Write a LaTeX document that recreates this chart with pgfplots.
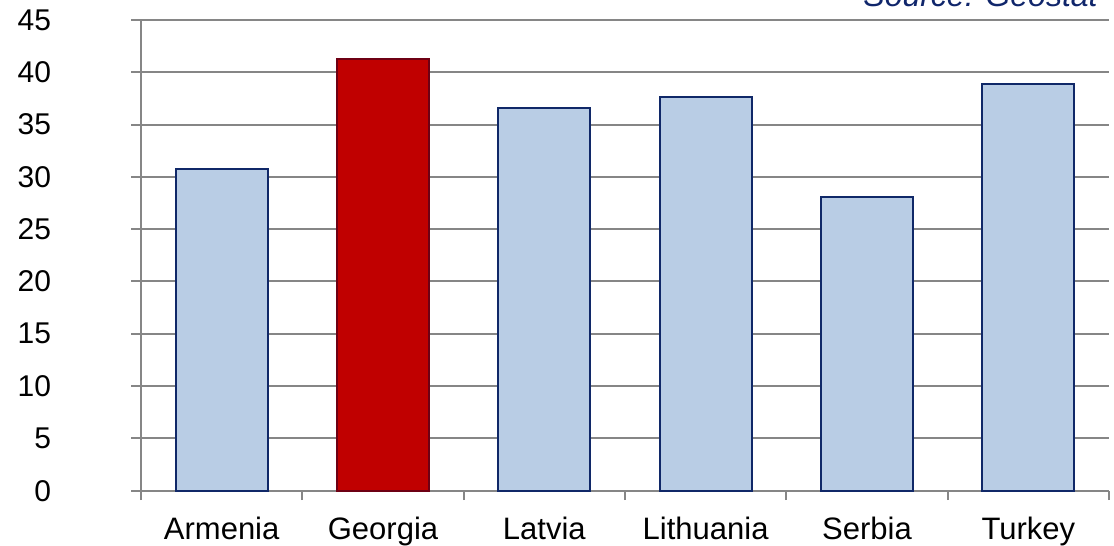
\documentclass[border=0pt]{standalone}
\usepackage{fontspec}
\setmainfont{Liberation Sans}
\usepackage{pgfplots}
\pgfplotsset{compat=1.18}

\definecolor{gridgray}{RGB}{134,134,134}
\definecolor{barblue}{RGB}{185,205,229}
\definecolor{baredge}{RGB}{16,40,104}
\definecolor{barred}{RGB}{192,0,0}
\definecolor{rededge}{RGB}{110,0,20}
\definecolor{srcblue}{RGB}{16,38,107}

\begin{document}
\begin{tikzpicture}
\begin{axis}[
  at={(0,0)}, anchor=south west,
  scale only axis,
  width=484pt, height=235.35pt,
  xmin=-0.5, xmax=5.5,
  ymin=0, ymax=45,
  ytick={0,5,...,45},
  ymajorgrids,
  grid style={draw=gridgray, line width=1pt},
  axis x line*=bottom,
  axis y line*=left,
  axis line style={draw=gridgray, line width=1pt, -},
  tick align=outside,
  major tick length=4.75pt,
  tick style={draw=gridgray, line width=1pt},
  % ticks sit on the category boundaries, names are centred between them
  xtick={-0.5,0.5,...,5.5},
  xticklabels={Armenia,Georgia,Latvia,Lithuania,Serbia,Turkey,{}},
  xticklabel style={font=\fontsize{15.5}{18}\selectfont, anchor=base,
                    xshift=40.333pt, yshift=-19.85pt, inner sep=0pt},
  yticklabel style={font=\fontsize{15}{18}\selectfont, anchor=east,
                    inner sep=0pt, xshift=-40pt},
  /pgf/number format/assume math mode=true,
  ybar, bar width=46pt, bar shift=0pt,
  clip=false,
]
\addplot[fill=barblue, draw=baredge, line width=1pt]
  coordinates {(0,30.8) (2,36.6) (3,37.6) (4,28.1) (5,38.9)};
\addplot[fill=barred, draw=rededge, line width=1pt]
  coordinates {(1,41.3)};
\end{axis}
\node[anchor=base east, inner sep=0pt, text=srcblue,
      font=\fontsize{16}{19}\selectfont\itshape]
  at (478.5pt,241.85pt) {Source: Geostat};
\pgfresetboundingbox
\useasboundingbox (-70.5pt,-27.65pt) rectangle (486.5pt,245.35pt);
\end{tikzpicture}
\end{document}
